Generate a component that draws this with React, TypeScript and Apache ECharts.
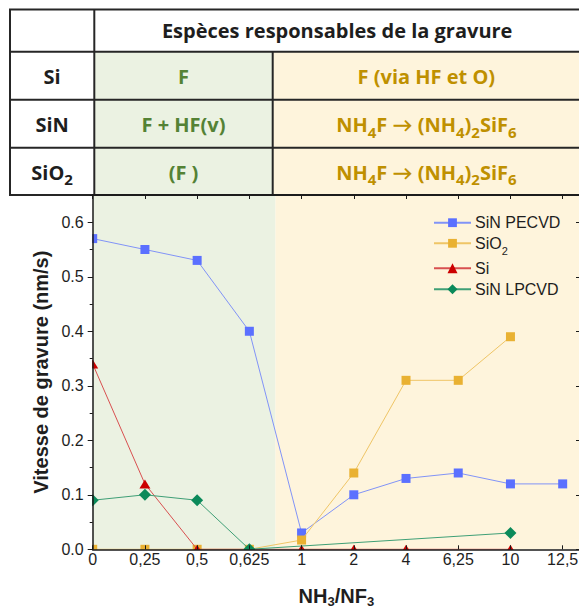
import React, { useEffect, useRef } from "react";
import * as echarts from "echarts";

// ---------- data ----------
const categories = ["0", "0,25", "0,5", "0,625", "1", "2", "4", "6,25", "10", "12,5"];
const sinPecvd = [0.57, 0.55, 0.53, 0.4, 0.03, 0.1, 0.13, 0.14, 0.12, 0.12];
const sio2 = [0, 0, 0, 0, 0.017, 0.14, 0.31, 0.31, 0.39, null];
const si = [0.34, 0.12, 0, 0, 0, 0, 0, null, 0, null];
const sinLpcvd = [0.09, 0.1, 0.09, 0, null, null, null, null, 0.03, null];
const regimeBoundary = 3.5; // between 0,625 and 1

const tableHeader = "Espèces responsables de la gravure";
const tableRowLabels = ["Si", "SiN", "SiO{s|2}"];
const lowRegime = ["F", "F + HF(v)", "(F )"];
const highRegime = ["F (via HF et O)", "NH{s|4}F → (NH{s|4}){s|2}SiF{s|6}", "NH{s|4}F → (NH{s|4}){s|2}SiF{s|6}"];

// ---------- layout / style ----------
const W = 581;
const H = 612;
const GRID_LEFT = 92.7;
const GRID_TOP = 195;
const GRID_RIGHT_EDGE = 580;
const GRID_BOTTOM_Y = 549.3;
const X_MAX = (GRID_RIGHT_EDGE - GRID_LEFT) / 52.22;
const Y_MAX = 0.65;

const GREEN_BG = "#ebf2e2";
const YELLOW_BG = "#fef4dc";
const GREEN_TXT = "#548235";
const GOLD_TXT = "#bf9000";
const BORDER = "#262626";
const AXIS = "#1a1a1a";
const TXT = "#1e1e1e";
const SANS = "'Liberation Sans', Arial, sans-serif";
const TFONT = "'Open Sans', Lato, sans-serif";

const COL_X = [10, 94.3, 272.7, 581];
const ROW_Y = [9.5, 51.7, 99.8, 147.7, 195];

const T_FS = 20;
const T_SUB = 15;

function tableText(text: string, x: number, y: number, fill: string) {
  return {
    type: "text",
    x,
    y,
    z: 5,
    style: {
      text,
      fill,
      fontSize: T_FS,
      fontWeight: "bold",
      fontFamily: TFONT,
      align: "center",
      verticalAlign: "middle",
      lineHeight: 29,
      rich: {
        s: {
          fill,
          fontSize: T_SUB,
          fontWeight: "bold",
          fontFamily: TFONT,
          lineHeight: 15,
          verticalAlign: "bottom",
        },
      },
    },
  };
}

function buildGraphics() {
  const els: any[] = [];
  els.push({ type: "rect", z: 1, shape: { x: COL_X[1], y: ROW_Y[1], width: COL_X[2] - COL_X[1], height: ROW_Y[4] - ROW_Y[1] }, style: { fill: GREEN_BG } });
  els.push({ type: "rect", z: 1, shape: { x: COL_X[2], y: ROW_Y[1], width: COL_X[3] - COL_X[2], height: ROW_Y[4] - ROW_Y[1] }, style: { fill: YELLOW_BG } });
  ROW_Y.forEach((y) => {
    els.push({ type: "line", z: 3, shape: { x1: COL_X[0] - 1, y1: y, x2: COL_X[3], y2: y }, style: { stroke: BORDER, lineWidth: 2 } });
  });
  els.push({ type: "line", z: 3, shape: { x1: COL_X[0], y1: ROW_Y[0], x2: COL_X[0], y2: ROW_Y[4] }, style: { stroke: BORDER, lineWidth: 2 } });
  els.push({ type: "line", z: 3, shape: { x1: COL_X[1], y1: ROW_Y[0], x2: COL_X[1], y2: ROW_Y[4] }, style: { stroke: BORDER, lineWidth: 2 } });
  els.push({ type: "line", z: 3, shape: { x1: COL_X[2], y1: ROW_Y[1], x2: COL_X[2], y2: ROW_Y[4] }, style: { stroke: BORDER, lineWidth: 2 } });
  els.push(tableText(tableHeader, (COL_X[1] + COL_X[3] - 1) / 2, (ROW_Y[0] + ROW_Y[1]) / 2, TXT));
  tableRowLabels.forEach((t, i) => {
    const cy = (ROW_Y[i + 1] + ROW_Y[i + 2]) / 2 + 1;
    els.push(tableText(t, (COL_X[0] + COL_X[1]) / 2, cy, TXT));
    els.push(tableText(lowRegime[i], (COL_X[1] + COL_X[2]) / 2, cy, GREEN_TXT));
    els.push(tableText(highRegime[i], (COL_X[2] + COL_X[3] - 1) / 2, cy, GOLD_TXT));
  });
  // white strips to clip markers at plot edges (like Origin)
  els.push({ type: "rect", z: 50, shape: { x: 84, y: GRID_TOP + 2, width: GRID_LEFT - 84 - 0.6, height: GRID_BOTTOM_Y - GRID_TOP + 10 }, style: { fill: "#ffffff" } });
  els.push({ type: "rect", z: 50, shape: { x: 84, y: GRID_BOTTOM_Y + 0.7, width: W - 84, height: 6.5 }, style: { fill: "#ffffff" } });
  return els;
}

const toPairs = (arr: (number | null)[]) => arr.map((v, i) => [i, v === null ? "-" : v]);

const xLabel = (v: number) => (Number.isInteger(v) && categories[v] !== undefined ? categories[v] : "");
const yLabel = (v: number) => {
  const k = Math.round(v * 10);
  return Math.abs(v * 10 - k) < 1e-6 ? (k / 10).toFixed(1) : "";
};

function makeLegend(name: string, centerY: number, itemHeight: number, boxH: number) {
  return {
    data: [name],
    left: 433,
    top: centerY - boxH / 2,
    orient: "vertical",
    padding: 0,
    itemWidth: 37,
    itemHeight,
    itemGap: 0,
    selectedMode: false,
    formatter: (n: string) => (n === "SiO2" ? "SiO{s|2}" : n),
    textStyle: {
      fontFamily: SANS,
      fontSize: 16,
      color: TXT,
      lineHeight: name === "SiO2" ? 26 : 16,
      padding: [0, 0, 0, -1],
      rich: {
        s: { fontSize: 11, lineHeight: 12.5, verticalAlign: "bottom", color: TXT, fontFamily: SANS },
      },
    },
  };
}

export default function App() {
  const ref = useRef<HTMLDivElement>(null);
  useEffect(() => {
    if (!ref.current) return;
    const chart = echarts.init(ref.current, null, { renderer: "svg" });
    const gridBottom = H - GRID_BOTTOM_Y;
    const axisCommon = { min: 0, max: X_MAX, interval: 1, type: "value" as const, z: 60 };
    const option: any = {
      animation: false,
      textStyle: { fontFamily: SANS },
      grid: { left: GRID_LEFT, top: GRID_TOP, right: W - GRID_RIGHT_EDGE, bottom: gridBottom, containLabel: false, outerBoundsMode: "none" },
      graphic: { elements: buildGraphics() },
      legend: [
        makeLegend("SiN PECVD", 222.7, 11, 16),
        makeLegend("SiO2", 243.3, 11, 26),
        makeLegend("Si", 268.3, 12.5, 16),
        makeLegend("SiN LPCVD", 289.3, 12.5, 16),
      ],
      xAxis: [
        {
          ...axisCommon,
          position: "bottom",
          axisLine: { show: true, onZero: false, lineStyle: { color: AXIS, width: 1.5 } },
          axisTick: { show: true, inside: true, length: 4, lineStyle: { color: AXIS, width: 1 } },
          axisLabel: { formatter: xLabel, fontSize: 16, color: TXT, margin: 2, showMaxLabel: false, fontFamily: SANS },
          splitLine: { show: false },
          name: "NH{s|3}/NF{s|3}",
          nameLocation: "middle",
          nameGap: 35,
          nameTextStyle: {
            fontSize: 20,
            fontWeight: "bold",
            color: TXT,
            fontFamily: SANS,
            lineHeight: 24,
            rich: { s: { fontSize: 13, fontWeight: "bold", lineHeight: 10, verticalAlign: "bottom", fontFamily: SANS, color: TXT } },
          },
        },
        {
          ...axisCommon,
          position: "top",
          axisLine: { show: true, onZero: false, lineStyle: { color: AXIS, width: 1.5 } },
          axisTick: { show: true, inside: true, length: 4, lineStyle: { color: AXIS, width: 1 } },
          axisLabel: { show: false },
          splitLine: { show: false },
        },
      ],
      yAxis: [
        {
          type: "value",
          min: 0,
          max: Y_MAX,
          interval: 0.1,
          position: "left",
          z: 60,
          axisLine: { show: true, onZero: false, lineStyle: { color: AXIS, width: 1.5 } },
          axisTick: { show: true, inside: false, length: 5, lineStyle: { color: AXIS, width: 1 } },
          axisLabel: { formatter: yLabel, fontSize: 16, color: TXT, margin: 9, showMaxLabel: false, fontFamily: SANS },
          splitLine: { show: false },
          name: "Vitesse de gravure (nm/s)",
          nameLocation: "middle",
          nameGap: 33,
          nameTextStyle: { fontSize: 20, fontWeight: "bold", color: TXT, fontFamily: SANS },
        },
        {
          type: "value",
          min: 0,
          max: Y_MAX,
          interval: 0.1,
          position: "right",
          z: 60,
          axisLine: { show: true, onZero: false, lineStyle: { color: AXIS, width: 1.5 } },
          axisTick: { show: true, inside: true, length: 4, lineStyle: { color: AXIS, width: 1 } },
          axisLabel: { show: false },
          splitLine: { show: false },
        },
        {
          type: "value",
          min: 0,
          max: Y_MAX,
          interval: 0.05,
          position: "left",
          z: 59,
          axisLine: { show: false },
          axisTick: { show: true, inside: false, length: 3, lineStyle: { color: AXIS, width: 1 } },
          axisLabel: { show: false },
          splitLine: { show: false },
        },
      ],
      series: [
        {
          name: "SiN PECVD",
          type: "line",
          data: toPairs(sinPecvd),
          symbol: "rect",
          symbolSize: 9,
          connectNulls: true,
          z: 2,
          itemStyle: { color: "#5b70ff" },
          lineStyle: { color: "#8193f7", width: 1 },
          markArea: {
            silent: true,
            z: 1,
            data: [
              [{ xAxis: 0, itemStyle: { color: GREEN_BG } }, { xAxis: regimeBoundary }],
              [{ xAxis: regimeBoundary, itemStyle: { color: YELLOW_BG } }, { xAxis: X_MAX }],
            ],
          },
        },
        {
          name: "SiO2",
          type: "line",
          data: toPairs(sio2),
          symbol: "rect",
          symbolSize: 9,
          connectNulls: true,
          z: 3,
          itemStyle: { color: "#e9b132" },
          lineStyle: { color: "#efc566", width: 1 },
        },
        {
          name: "Si",
          type: "line",
          data: toPairs(si),
          symbol: "triangle",
          symbolSize: [11, 9],
          connectNulls: true,
          z: 4,
          itemStyle: { color: "#cc0000" },
          lineStyle: { color: "#d85050", width: 1 },
        },
        {
          name: "SiN LPCVD",
          type: "line",
          data: toPairs(sinLpcvd),
          symbol: "diamond",
          symbolSize: 12,
          connectNulls: true,
          z: 5,
          itemStyle: { color: "#0b8a5a" },
          lineStyle: { color: "#3f9f76", width: 1 },
        },
      ],
    };
    chart.setOption(option);
    return () => chart.dispose();
  }, []);
  return (
    <div style={{ position: "fixed", left: 0, top: 0, width: 579, height: H, overflow: "hidden", background: "#fff" }}>
      <div ref={ref} style={{ width: W, height: H }} />
    </div>
  );
}
